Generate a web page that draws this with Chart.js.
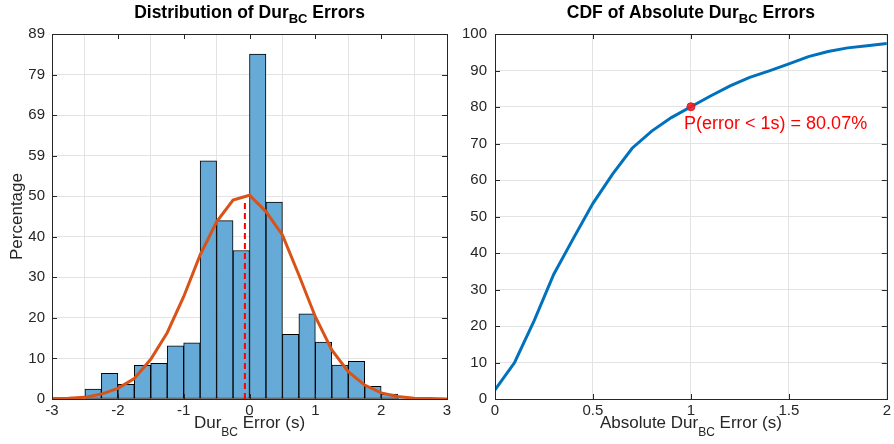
<!DOCTYPE html>
<html>
<head>
<meta charset="utf-8">
<script src="https://cdn.jsdelivr.net/npm/chart.js@4.4.1/dist/chart.umd.min.js"></script>
<style>
  body { margin: 0; background: #fff; }
  #histChart { position: absolute; left: 0; top: 0; }
  #cdfChart { position: absolute; left: 460px; top: 0; }
</style>
</head>
<body>
<canvas id="histChart" width="460" height="444"></canvas>
<canvas id="cdfChart" width="434" height="444"></canvas>
<script>
// histogram bins (centres, width 0.25 s) and heights
const binCenters = [-2.375, -2.125, -1.875, -1.625, -1.375, -1.125, -0.875, -0.625, -0.375, -0.125,
                    0.125, 0.375, 0.625, 0.875, 1.125, 1.375, 1.625, 1.875, 2.125, 2.375];
const binPercent = [2.4, 6.3, 3.6, 8.2, 8.7, 13.0, 13.7, 58.2, 43.6, 36.3,
                    84.3, 48.1, 15.8, 20.8, 13.9, 8.3, 9.2, 3.1, 1.2, 0.3];

// fitted normal curve
const fitX = [-3, -2.75, -2.5, -2.25, -2, -1.75, -1.5, -1.25, -1, -0.75, -0.5, -0.25,
              0, 0.25, 0.5, 0.75, 1, 1.25, 1.5, 1.75, 2, 2.25, 2.5, 2.75, 3];
const fitY = [0.1, 0.2, 0.4, 1.2, 2.6, 5.0, 9.7, 16.2, 25.0, 35.2, 43.3, 48.6,
              49.8, 45.8, 40.1, 30.3, 20.1, 12.0, 6.7, 3.4, 1.5, 0.6, 0.2, 0.1, 0.0];

// mean error marker
const meanErr = -0.07;
const meanTop = 48.0;

// left y axis tick positions and their printed labels
const histYTicks = [0, 9.91, 19.82, 29.73, 39.64, 49.56, 59.47, 69.38, 79.29, 89.2];
const histYLabels = ['0', '10', '20', '30', '40', '50', '59', '69', '79', '89'];

// CDF of absolute error
const cdfX = [0, 0.1, 0.2, 0.3, 0.4, 0.5, 0.6, 0.7, 0.8, 0.9, 1.0,
              1.1, 1.2, 1.3, 1.4, 1.5, 1.6, 1.7, 1.8, 1.9, 2.0];
const cdfY = [2.5, 10.0, 21.5, 34.2, 44.0, 53.6, 61.6, 68.7, 73.4, 77.1, 80.07,
              83.0, 85.8, 88.1, 89.9, 91.8, 93.8, 95.2, 96.2, 96.8, 97.4];
const cdfMarkX = 1.0;
const cdfMarkY = 80.07;
const cdfXLabels = ['0', '0.5', '1', '1.5', '2'];

const FONT = '"Liberation Sans", Arial, Helvetica, sans-serif';
const AXIS_COLOR = '#262626';
const GRID_COLOR = '#e3e3e3';

// text with "_BC" style subscripts: parts = [[text, isSub], ...]
function drawRich(ctx, parts, x, y, size, bold, subDrop) {
  const w = bold ? 'bold ' : '';
  const mainFont = w + size + 'px ' + FONT;
  const subFont = w + Math.round(size * 0.72) + 'px ' + FONT;
  let total = 0;
  parts.forEach(p => { ctx.font = p[1] ? subFont : mainFont; total += ctx.measureText(p[0]).width; });
  let cx = x - total / 2;
  ctx.textAlign = 'left';
  ctx.textBaseline = 'alphabetic';
  parts.forEach(p => {
    ctx.font = p[1] ? subFont : mainFont;
    ctx.fillText(p[0], cx, p[1] ? y + subDrop : y);
    cx += ctx.measureText(p[0]).width;
  });
}

// box around the axes with inward ticks on all four sides, plus labels
const matlabAxes = {
  id: 'matlabAxes',
  afterDraw(chart, args, opts) {
    const ctx = chart.ctx;
    const a = chart.chartArea;
    const xs = chart.scales.x, ys = chart.scales.y;
    ctx.save();
    ctx.strokeStyle = AXIS_COLOR;
    ctx.lineWidth = 1;
    ctx.strokeRect(Math.round(a.left) + 0.5, Math.round(a.top) + 0.5,
                   Math.round(a.right - a.left), Math.round(a.bottom - a.top));
    ctx.beginPath();
    xs.ticks.forEach(t => {
      const px = Math.round(xs.getPixelForValue(t.value)) + 0.5;
      ctx.moveTo(px, a.bottom); ctx.lineTo(px, a.bottom - 5);
      ctx.moveTo(px, a.top); ctx.lineTo(px, a.top + 5);
    });
    ys.ticks.forEach(t => {
      const py = Math.round(ys.getPixelForValue(t.value)) + 0.5;
      ctx.moveTo(a.left, py); ctx.lineTo(a.left + 5, py);
      ctx.moveTo(a.right, py); ctx.lineTo(a.right - 5, py);
    });
    ctx.stroke();

    ctx.fillStyle = '#000';
    const midX = (a.left + a.right) / 2;
    drawRich(ctx, opts.title, midX, 18, 17.5, true, 5);
    ctx.fillStyle = AXIS_COLOR;
    drawRich(ctx, opts.xLabel, midX, 428, 17, false, 8);
    if (opts.yLabel) {
      ctx.save();
      ctx.translate(17, (a.top + a.bottom) / 2);
      ctx.rotate(-Math.PI / 2);
      ctx.font = '17px ' + FONT;
      ctx.textAlign = 'center';
      ctx.textBaseline = 'middle';
      ctx.fillText(opts.yLabel, 0, 0);
      ctx.restore();
    }
    if (opts.note) {
      ctx.fillStyle = 'rgb(255,0,0)';
      ctx.font = '18px ' + FONT;
      ctx.textAlign = 'left';
      ctx.textBaseline = 'alphabetic';
      ctx.fillText(opts.note.text, xs.getPixelForValue(opts.note.x), ys.getPixelForValue(opts.note.y));
    }
    ctx.restore();
  }
};

const tickFont = { family: FONT, size: 15 };

new Chart(document.getElementById('histChart'), {
  type: 'bar',
  data: {
    datasets: [
      {
        type: 'bar',
        data: binCenters.map((x, i) => ({ x: x, y: binPercent[i] })),
        backgroundColor: 'rgb(102,170,215)',
        borderColor: '#000',
        borderWidth: 1,
        borderSkipped: false,
        barPercentage: 1,
        categoryPercentage: 1,
        order: 3
      },
      {
        type: 'line',
        data: fitX.map((x, i) => ({ x: x, y: fitY[i] })),
        borderColor: 'rgb(217,83,25)',
        borderWidth: 3,
        pointRadius: 0,
        tension: 0,
        order: 2
      },
      {
        type: 'line',
        data: [{ x: meanErr, y: 0 }, { x: meanErr, y: meanTop }],
        borderColor: 'rgb(255,0,0)',
        borderWidth: 2,
        borderDash: [6, 4],
        pointRadius: 0,
        order: 1
      }
    ]
  },
  options: {
    responsive: false,
    animation: false,
    layout: { padding: { left: 0, top: 34, right: 13, bottom: 0 } },
    plugins: {
      legend: { display: false },
      tooltip: { enabled: false },
      matlabAxes: {
        title: [['Distribution of Dur', false], ['BC', true], [' Errors', false]],
        xLabel: [['Dur', false], ['BC', true], [' Error (s)', false]],
        yLabel: 'Percentage'
      }
    },
    scales: {
      x: {
        type: 'linear', min: -3, max: 3, offset: false,
        ticks: { stepSize: 1, font: tickFont, color: AXIS_COLOR, padding: 3, maxRotation: 0 },
        grid: { color: GRID_COLOR, drawTicks: false },
        border: { display: false },
        afterFit(s) { s.height = 45; }
      },
      y: {
        min: 0, max: 89.2,
        afterBuildTicks(s) { s.ticks = histYTicks.map(v => ({ value: v })); },
        ticks: {
          font: tickFont, color: AXIS_COLOR, padding: 7,
          callback: (v, i) => histYLabels[i]
        },
        grid: { color: GRID_COLOR, drawTicks: false },
        border: { display: false },
        afterFit(s) { s.width = 52; }
      }
    }
  },
  plugins: [matlabAxes]
});

new Chart(document.getElementById('cdfChart'), {
  type: 'line',
  data: {
    datasets: [
      {
        data: [{ x: cdfMarkX, y: cdfMarkY }],
        showLine: false,
        pointRadius: 4,
        pointBackgroundColor: 'rgba(240,30,35,0.9)',
        pointBorderColor: 'rgba(220,20,30,0.9)',
        order: 1
      },
      {
        data: cdfX.map((x, i) => ({ x: x, y: cdfY[i] })),
        borderColor: 'rgb(0,114,189)',
        borderWidth: 3,
        pointRadius: 0,
        tension: 0,
        order: 2
      }
    ]
  },
  options: {
    responsive: false,
    animation: false,
    layout: { padding: { left: 0, top: 34, right: 5, bottom: 0 } },
    plugins: {
      legend: { display: false },
      tooltip: { enabled: false },
      matlabAxes: {
        title: [['CDF of Absolute Dur', false], ['BC', true], [' Errors', false]],
        xLabel: [['Absolute Dur', false], ['BC', true], [' Error (s)', false]],
        note: { text: 'P(error < 1s) = 80.07%', x: 0.965, y: 74 }
      }
    },
    scales: {
      x: {
        type: 'linear', min: 0, max: 2,
        ticks: {
          stepSize: 0.5, font: tickFont, color: AXIS_COLOR, padding: 3, maxRotation: 0,
          callback: (v, i) => cdfXLabels[i]
        },
        grid: { color: GRID_COLOR, drawTicks: false },
        border: { display: false },
        afterFit(s) { s.height = 45; }
      },
      y: {
        min: 0, max: 100,
        ticks: { stepSize: 10, font: tickFont, color: AXIS_COLOR, padding: 8 },
        grid: { color: GRID_COLOR, drawTicks: false },
        border: { display: false },
        afterFit(s) { s.width = 35; }
      }
    }
  },
  plugins: [matlabAxes]
});
</script>
</body>
</html>
